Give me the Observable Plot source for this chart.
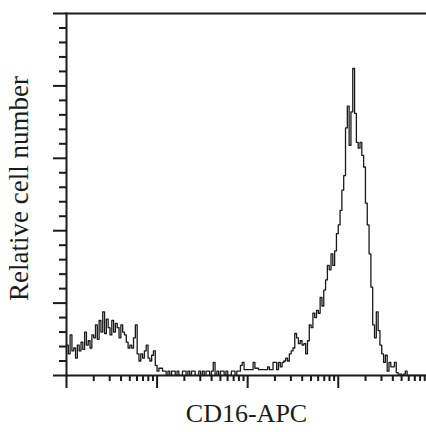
<!DOCTYPE html>
<html>
<head>
<meta charset="utf-8">
<script src="https://cdn.jsdelivr.net/npm/d3@7"></script>
<script src="https://cdn.jsdelivr.net/npm/@observablehq/plot@0.6"></script>
<style>
  html, body { margin: 0; padding: 0; background: #fff; }
  #chart svg { display: block; }
</style>
</head>
<body>
<div id="chart"></div>
<script>
// Histogram counts per log-channel bin (each bin = 0.02 decade, starting at 10^0)
const counts = [
  21,15,28,17, 19,12,21,17, 23,18,30,21,24,19, 28,26,35,25,38, 30,44,
  29,39,33,28,38,30,36,33, 26,35,30, 28,23,19,21,19,26,35,
  15,10,15,12,17,21,12,10,14,17,7, 3,5,5,3,3,
  0,3,0,3,3,0,3,0,0,3, 3,0,3,0,3,3,0,0,3,0, 3,0,3,3,0,3,9,0,3,0, 3,3,0,3,0,0,3,3,0,3, 3,
  7,9,4,4,4,4,4,9,5,5,4, 4,4,4,4,6,4,4, 9,9,4,9,6,9,
  10,12,10,15,17,19,29,26, 22,24,21,22,15,24, 35,33, 43,40,45,43,
  54,48,59,66, 76,73,84,76,86, 98,104,114,128,138,
  171,186,159,182,212, 181,161,157,161,152, 144,119,104,84,61,
  35,26,44,31,21,15,9,14, 3,9,6,6,9,2,1,1,0,1,3,
  0,0,0,0,0,0,0,0,0,0,0
];
const binDecades = 0.02;
const xDomain = [1, 9420];
const yDomain = [0, 250];
const xMajorTicks = [1, 10, 100, 1000];
const xMinorTicks = [2,3,4,5,6,7,8,9, 20,30,40,50,60,70,80,90, 200,300,400,500,600,700,800,900, 2000,3000,4000,5000,6000,7000,8000,9000];
const yMajorTicks = [0, 50, 100, 150, 200, 250];
const yMinorTicks = [10,20,30,40, 60,70,80,90, 110,120,130,140, 160,170,180,190, 210,220,230,240];
const xTitle = "CD16-APC";
const yTitle = "Relative cell number";

const pts = counts.map((c, i) => ({x: Math.pow(10, i * binDecades), y: c}));
pts.push({x: Math.pow(10, counts.length * binDecades), y: counts[counts.length - 1]});

const ink = "#1a1a1a";
const chart = Plot.plot({
  width: 426,
  height: 432,
  marginTop: 13,
  marginBottom: 57,
  marginLeft: 66,
  marginRight: 0,
  style: {fontFamily: "'Liberation Serif', 'Times New Roman', serif", background: "#fff", color: ink},
  x: {type: "log", domain: xDomain},
  y: {domain: yDomain},
  marks: [
    Plot.lineY(pts, {x: "x", y: "y", curve: "step-after", stroke: ink, strokeWidth: 1.3, clip: true}),
    Plot.frame({anchor: "top", stroke: ink, strokeWidth: 2}),
    Plot.frame({anchor: "left", stroke: ink, strokeWidth: 2}),
    Plot.frame({anchor: "bottom", stroke: ink, strokeWidth: 2}),
    Plot.axisY(yMajorTicks, {tickSize: 13, tickFormat: () => "", label: null, stroke: ink, strokeWidth: 2}),
    Plot.axisY(yMinorTicks, {tickSize: 7, tickFormat: () => "", label: null, stroke: ink, strokeWidth: 2}),
    Plot.axisX(xMajorTicks, {tickSize: 13, tickFormat: () => "", label: null, stroke: ink, strokeWidth: 2}),
    Plot.axisX(xMinorTicks, {tickSize: 6, tickFormat: () => "", label: null, stroke: ink, strokeWidth: 2}),
    Plot.text([xTitle], {frameAnchor: "bottom", dy: 46, text: d => d, fontSize: 26, fill: ink}),
    Plot.text([yTitle], {frameAnchor: "left", textAnchor: "middle", dx: -47, dy: -6, rotate: -90, text: d => d, fontSize: 27, fill: ink})
  ]
});
document.getElementById("chart").appendChild(chart);
</script>
</body>
</html>
